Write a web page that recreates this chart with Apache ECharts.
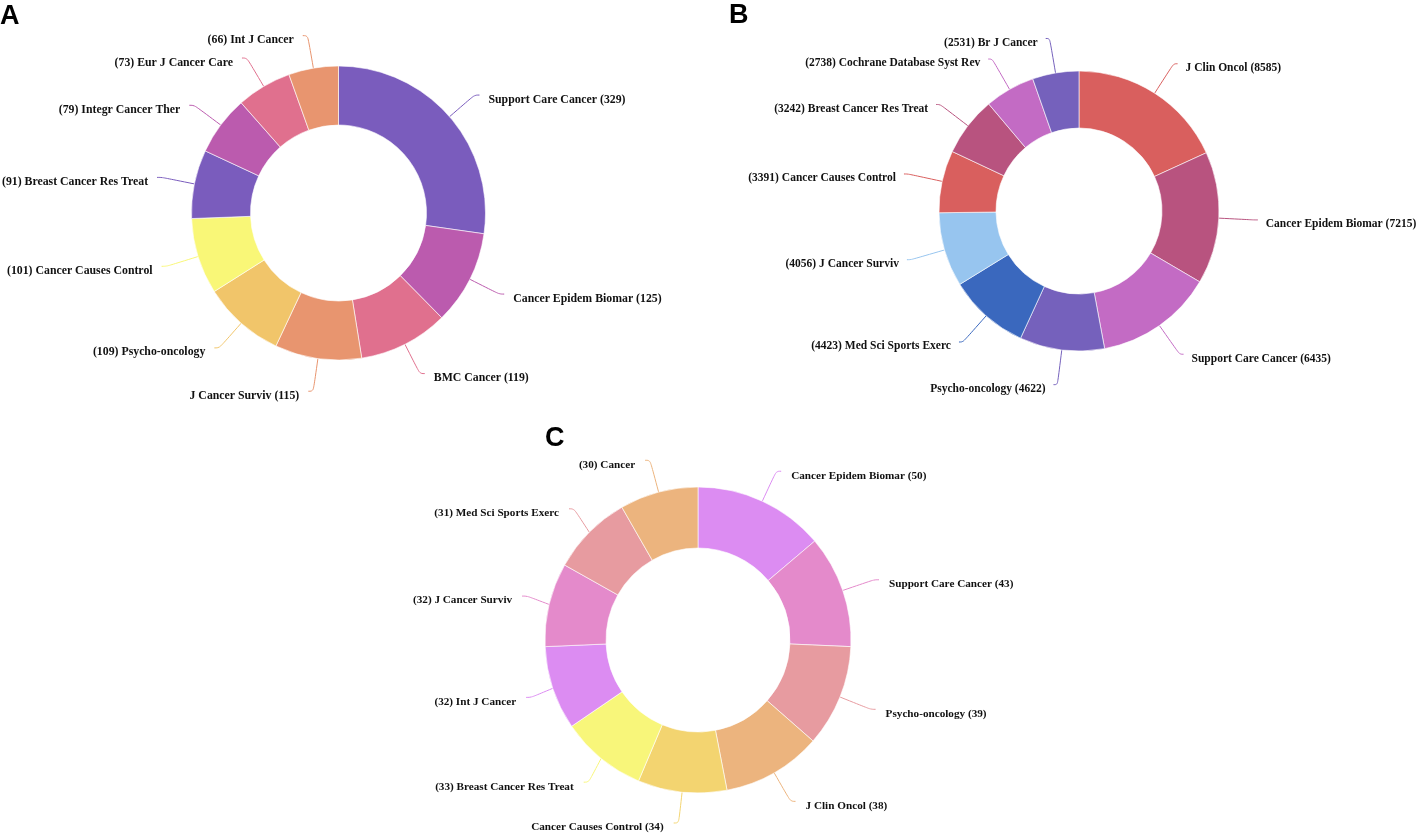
<!DOCTYPE html>
<html><head><meta charset="utf-8">
<script src="https://cdn.jsdelivr.net/npm/echarts@6/dist/echarts.min.js"></script>
<style>html,body{margin:0;padding:0;background:#fff}#c{width:1418px;height:834px}</style>
</head><body><div id="c"></div>
<script>
// Panel A
const namesA = ['Support Care Cancer','Cancer Epidem Biomar','BMC Cancer','J Cancer Surviv','Psycho-oncology','Cancer Causes Control','Breast Cancer Res Treat','Integr Cancer Ther','Eur J Cancer Care','Int J Cancer'];
const valuesA = [329,125,119,115,109,101,91,79,73,66];
const colorsA = ['#7a5cbd','#bb5bae','#e0708e','#e8956f','#f1c56a','#f9f777','#7a5cbd','#bb5bae','#e0708e','#e8956f'];
// Panel B
const namesB = ['J Clin Oncol','Cancer Epidem Biomar','Support Care Cancer','Psycho-oncology','Med Sci Sports Exerc','J Cancer Surviv','Cancer Causes Control','Breast Cancer Res Treat','Cochrane Database Syst Rev','Br J Cancer'];
const valuesB = [8585,7215,6435,4622,4423,4056,3391,3242,2738,2531];
const colorsB = ['#d95f5e','#b8537f','#c36bc4','#7561bc','#3a68be','#97c5ef','#d95f5e','#b8537f','#c36bc4','#7561bc'];
// Panel C
const namesC = ['Cancer Epidem Biomar','Support Care Cancer','Psycho-oncology','J Clin Oncol','Cancer Causes Control','Breast Cancer Res Treat','Int J Cancer','J Cancer Surviv','Med Sci Sports Exerc','Cancer'];
const valuesC = [50,43,39,38,34,33,32,32,31,30];
const colorsC = ['#dc8cf2','#e48acb','#e79ba0','#ecb47e','#f3d470','#f8f67a','#dc8cf2','#e48acb','#e79ba0','#ecb47e'];

const panelLetters = ['A','B','C'];

function makeFormatter(values){
  const total = values.reduce((a,b)=>a+b,0);
  return function(p){
    let before = 0;
    for (let i=0;i<p.dataIndex;i++) before += values[i];
    const mid = (before + values[p.dataIndex]/2)/total*360;
    const txt = mid < 200 ? p.name + ' (' + p.value + ')' : '(' + p.value + ') ' + p.name;
    return '{t|' + txt + '}';
  };
}
function makeSeries(names, values, colors, center, radius, fs, l1, l2, dist){
  return {
    type:'pie', center:center, radius:radius, startAngle:90, clockwise:true,
    avoidLabelOverlap:true,
    itemStyle:{borderColor:'#ffffff', borderWidth:0.6},
    label:{show:true, position:'outside', formatter:makeFormatter(values), width:230, overflow:'none',
      distanceToLabelLine:dist,
      rich:{t:{fontFamily:'Liberation Serif', fontWeight:'bold', fontSize:fs, color:'#111', padding:[9,0,0,0]}}},
    labelLine:{show:true, length:l1, length2:l2, smooth:0.4, lineStyle:{width:1}},
    emphasis:{disabled:true},
    data: names.map((n,i)=>({name:n, value:values[i], itemStyle:{color:colors[i]}}))
  };
}
const chart = echarts.init(document.getElementById('c'));
chart.setOption({
  animation:false,
  graphic:[
    {type:'text', left:0, top:3, style:{text:panelLetters[0], font:'bold 27px Liberation Sans', fill:'#000'}},
    {type:'text', left:729, top:2, style:{text:panelLetters[1], font:'bold 27px Liberation Sans', fill:'#000'}},
    {type:'text', left:545, top:425, style:{text:panelLetters[2], font:'bold 27px Liberation Sans', fill:'#000'}}
  ],
  series:[
    makeSeries(namesA, valuesA, colorsA, [338.5,213], [88,147], 11.8, 33, 5, 9),
    makeSeries(namesB, valuesB, colorsB, [1079,211], [83,140], 11.5, 35, 4, 8),
    makeSeries(namesC, valuesC, colorsC, [698,640], [92,153], 11.2, 33, 5, 10)
  ]
});
</script></body></html>
